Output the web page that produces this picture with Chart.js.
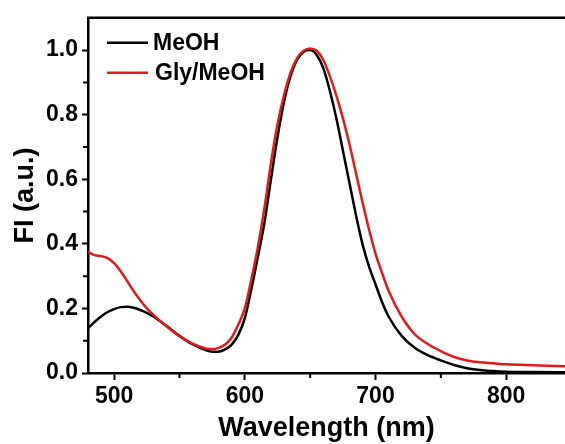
<!DOCTYPE html>
<html>
<head>
    <title>FI spectra - MeOH vs Gly/MeOH</title>
    <style>
        html, body {
            margin: 0;
            padding: 0;
            background-color: #fff;
            overflow: hidden;
        }
        #wrap {
            width: 565px;
            height: 444px;
        }
    </style>
</head>
<body>
    <div id="wrap"><canvas id="fi-chart"></canvas></div>

    <script src="https://cdn.jsdelivr.net/npm/chart.js"></script>
    <script>
        // Wavelength grid (nm) and normalised intensities
        const wavelengths = [480, 485, 490, 495, 500, 505, 510, 515, 520, 525, 530, 540, 550, 560, 570, 575, 580, 585, 590, 595,
            600, 605, 610, 615, 620, 625, 630, 635, 640, 645, 650, 655, 660, 665, 670, 675, 680, 685, 690, 695,
            700, 705, 710, 720, 730, 740, 750, 760, 770, 780, 790, 800, 820, 845];
        const meoh = [0.139, 0.158, 0.175, 0.189, 0.198, 0.204, 0.205, 0.202, 0.195, 0.186, 0.175, 0.146, 0.115, 0.089, 0.071, 0.066, 0.066, 0.073, 0.088, 0.118,
            0.170, 0.260, 0.360, 0.465, 0.600, 0.730, 0.840, 0.920, 0.970, 0.995, 1.000, 0.985, 0.945, 0.875, 0.790, 0.690, 0.590, 0.490, 0.400, 0.330,
            0.275, 0.220, 0.175, 0.115, 0.078, 0.055, 0.039, 0.025, 0.015, 0.009, 0.006, 0.004, 0.003, 0.002];
        const glyMeoh = [0.375, 0.365, 0.362, 0.356, 0.340, 0.315, 0.285, 0.253, 0.225, 0.200, 0.180, 0.145, 0.114, 0.091, 0.076, 0.074, 0.078, 0.088, 0.110, 0.150,
            0.200, 0.290, 0.390, 0.510, 0.650, 0.770, 0.860, 0.930, 0.975, 0.998, 1.005, 0.998, 0.970, 0.920, 0.860, 0.790, 0.710, 0.620, 0.530, 0.445,
            0.370, 0.310, 0.255, 0.175, 0.120, 0.090, 0.068, 0.050, 0.039, 0.033, 0.030, 0.027, 0.024, 0.021];

        const xMajor = [500, 600, 700, 800];
        const xMinor = [550, 650, 750];
        const yMajor = [0, 0.2, 0.4, 0.6, 0.8, 1.0];
        const yMinor = [0.1, 0.3, 0.5, 0.7, 0.9];

        const FONT = "'Liberation Sans', Arial, sans-serif";

        // frame top line, minor ticks and the in-plot legend
        const framePlugin = {
            id: "frame",
            afterDraw(chart) {
                const ctx = chart.ctx;
                const area = chart.chartArea;
                const xs = chart.scales.x;
                const ys = chart.scales.y;
                ctx.save();
                ctx.strokeStyle = "#000";
                ctx.lineWidth = 2.5;
                ctx.beginPath();
                ctx.moveTo(area.left - 1, area.top);
                ctx.lineTo(area.right, area.top);
                ctx.stroke();

                ctx.lineWidth = 2;
                ctx.beginPath();
                xMinor.forEach(v => {
                    const px = xs.getPixelForValue(v);
                    ctx.moveTo(px, area.bottom);
                    ctx.lineTo(px, area.bottom + 5);
                });
                yMinor.forEach(v => {
                    const py = ys.getPixelForValue(v);
                    ctx.moveTo(area.left, py);
                    ctx.lineTo(area.left - 5, py);
                });
                ctx.stroke();

                // legend
                ctx.font = "bold 23px " + FONT;
                ctx.textBaseline = "middle";
                ctx.fillStyle = "#000";
                chart.data.datasets.forEach((ds, i) => {
                    const y = area.top + 25 + i * 30;
                    ctx.strokeStyle = ds.borderColor;
                    ctx.lineWidth = 2.5;
                    ctx.beginPath();
                    ctx.moveTo(area.left + 19, y);
                    ctx.lineTo(area.left + 60, y);
                    ctx.stroke();
                    ctx.fillText(ds.label, area.left + 65 + i * 2, y + 1);
                });
                ctx.restore();
            }
        };

        const ctx = document.getElementById("fi-chart").getContext("2d");
        new Chart(ctx, {
            type: "line",
            data: {
                datasets: [{
                    label: "MeOH",
                    data: wavelengths.map((w, i) => ({ x: w, y: meoh[i] })),
                    borderColor: "#000000",
                    borderWidth: 2.5,
                    pointRadius: 0,
                    cubicInterpolationMode: "monotone",
                    order: 1,
                }, {
                    label: "Gly/MeOH",
                    data: wavelengths.map((w, i) => ({ x: w, y: glyMeoh[i] })),
                    borderColor: "#e3191c",
                    borderWidth: 2.5,
                    pointRadius: 0,
                    cubicInterpolationMode: "monotone",
                    order: 0,
                }],
            },
            options: {
                responsive: true,
                maintainAspectRatio: false,
                animation: false,
                layout: { padding: { top: 17, right: 0, left: 0, bottom: 0 } },
                plugins: {
                    legend: { display: false },
                    tooltip: { enabled: false },
                },
                scales: {
                    x: {
                        type: "linear",
                        min: 480,
                        max: 845,
                        afterBuildTicks: s => { s.ticks = xMajor.map(v => ({ value: v })); },
                        afterFit: s => { s.height = 71; },
                        grid: { drawOnChartArea: false, tickLength: 7, tickWidth: 2, tickColor: "#000" },
                        border: { color: "#000", width: 2.5 },
                        ticks: {
                            color: "#000",
                            padding: 3,
                            maxRotation: 0,
                            font: { family: FONT, size: 23, weight: "bold" },
                        },
                        title: {
                            display: true,
                            text: "Wavelength (nm)",
                            color: "#000",
                            padding: { top: 0, bottom: 2 },
                            font: { family: FONT, size: 27, weight: "bold", lineHeight: 1.0 },
                        },
                    },
                    y: {
                        min: 0,
                        max: 1.1,
                        afterBuildTicks: s => { s.ticks = yMajor.map(v => ({ value: v })); },
                        afterFit: s => { s.width = 88; },
                        grid: { drawOnChartArea: false, tickLength: 6, tickWidth: 2, tickColor: "#000" },
                        border: { color: "#000", width: 2.5 },
                        ticks: {
                            color: "#000",
                            padding: 4,
                            callback: v => v.toFixed(1),
                            font: { family: FONT, size: 23, weight: "bold" },
                        },
                        title: {
                            display: true,
                            text: "FI (a.u.)",
                            color: "#000",
                            padding: { top: 12, bottom: 0 },
                            font: { family: FONT, size: 27, weight: "bold", lineHeight: 1.0 },
                        },
                    },
                },
            },
            plugins: [framePlugin],
        });
    </script>
</body>
</html>
